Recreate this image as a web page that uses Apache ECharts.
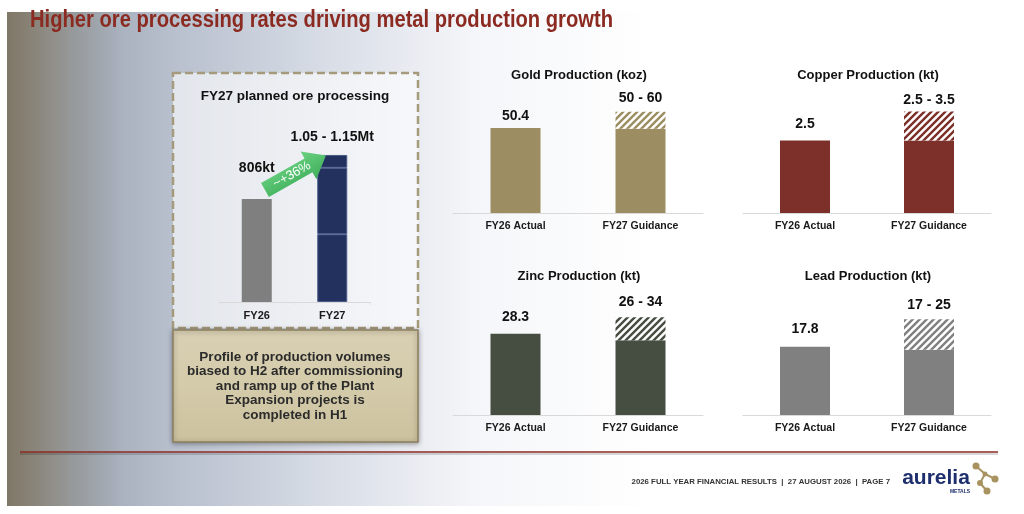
<!DOCTYPE html>
<html lang="en">
<head>
    <meta charset="UTF-8">
    <title>Higher ore processing rates driving metal production growth</title>
    <style>
        html, body { margin: 0; padding: 0; background: #ffffff; }
        #chart-container { width: 1024px; height: 514px; }
    </style>
</head>
<body>
    <div id="chart-container"></div>
    <script src="https://cdn.jsdelivr.net/npm/echarts@6/dist/echarts.min.js"></script>
    <script>
      // ---- data ----
      const oreCategories = ['FY26', 'FY27'];
      const oreActual = 806;              // kt
      const oreGuidance = [1050, 1150];   // kt, planned range
      const oreFY27Split = [530, 520, 100]; // segments visible in the FY27 bar

      const metalCategories = ['FY26 Actual', 'FY27 Guidance'];
      const goldActual = 50.4;   const goldGuidance = [50, 60];
      const copperActual = 2.5;  const copperGuidance = [2.5, 3.5];
      const zincActual = 28.3;   const zincGuidance = [26, 34];
      const leadActual = 17.8;   const leadGuidance = [17, 25];

      const FONT = '"Liberation Sans", Arial, sans-serif';
      const HEADLINE = 'Higher ore processing rates driving metal production growth';

      var dom = document.getElementById('chart-container');
      var myChart = echarts.init(dom, null, { renderer: 'canvas' });

      // diagonal hatch used for the guidance range
      function makeHatch(color) {
        const s = 7;
        const c = document.createElement('canvas');
        c.width = s; c.height = s;
        const ctx = c.getContext('2d');
        ctx.fillStyle = '#ffffff';
        ctx.fillRect(0, 0, s, s);
        ctx.strokeStyle = color;
        ctx.lineWidth = 2.4;
        ctx.beginPath();
        ctx.moveTo(-1, s + 1); ctx.lineTo(s + 1, -1);
        ctx.moveTo(-1, 1); ctx.lineTo(1, -1);
        ctx.moveTo(s - 1, s + 1); ctx.lineTo(s + 1, s - 1);
        ctx.stroke();
        return { image: c, repeat: 'repeat' };
      }

      // the slide uses a narrow bold face; squeeze the headline to its width
      const headFont = 'bold 23px ' + FONT;
      const mctx = document.createElement('canvas').getContext('2d');
      mctx.font = headFont;
      const headScale = 583 / mctx.measureText(HEADLINE).width;

      // small metal charts: grid box + axis max + colour
      const metalCharts = [
        { title: 'Gold Production (koz)', actual: goldActual, guidance: goldGuidance, color: '#9c8d62',
          left: 453, width: 250, top: 95, height: 118, max: 70, gaps: [5, 7] },
        { title: 'Copper Production (kt)', actual: copperActual, guidance: copperGuidance, color: '#7c3029',
          left: 743, width: 248, top: 97, height: 116, max: 4, gaps: [9, 4] },
        { title: 'Zinc Production (kt)', actual: zincActual, guidance: zincGuidance, color: '#464d41',
          left: 453, width: 250, top: 300, height: 115, max: 40, gaps: [9, 8] },
        { title: 'Lead Production (kt)', actual: leadActual, guidance: leadGuidance, color: '#808080',
          left: 743, width: 248, top: 300, height: 115, max: 30, gaps: [11, 7] }
      ];

      const grids = [{ left: 219, width: 151, top: 123, height: 179 }];
      const xAxes = [{
        type: 'category', gridIndex: 0, data: oreCategories,
        axisLine: { lineStyle: { color: '#d9d9d9' } },
        axisTick: { show: true, length: 3, lineStyle: { color: '#e2e2e2' } },
        axisLabel: { color: '#1a1a1a', fontWeight: 'bold', fontSize: 11, fontFamily: FONT, margin: 8 }
      }];
      const yAxes = [{ type: 'value', gridIndex: 0, min: 0, max: 1400, show: false, splitLine: { show: false } }];

      const boldLabel = { show: true, position: 'top', color: '#111', fontWeight: 'bold', fontSize: 14, fontFamily: FONT };

      const series = [
        {
          type: 'bar', stack: 'ore', xAxisIndex: 0, yAxisIndex: 0, barWidth: 30,
          data: [oreActual, '-'],
          itemStyle: { color: '#7f7f7f' },
          label: Object.assign({}, boldLabel, { distance: 24, formatter: p => p.value + 'kt' })
        }
      ];
      oreFY27Split.forEach(function (v, i) {
        series.push({
          type: 'bar', stack: 'ore', xAxisIndex: 0, yAxisIndex: 0, barWidth: 30,
          data: ['-', v],
          itemStyle: { color: '#22315e', borderColor: '#4a5a88', borderWidth: 1 },
          label: i === oreFY27Split.length - 1
            ? Object.assign({}, boldLabel, { distance: 11,
                formatter: () => (oreGuidance[0] / 1000).toFixed(2) + ' - ' + (oreGuidance[1] / 1000).toFixed(2) + 'Mt' })
            : { show: false }
        });
      });

      metalCharts.forEach(function (m, k) {
        const gi = k + 1;
        grids.push({ left: m.left, width: m.width, top: m.top, height: m.height });
        xAxes.push({
          type: 'category', gridIndex: gi, data: metalCategories,
          axisLine: { lineStyle: { color: '#d9d9d9', width: 1.2 } },
          axisTick: { show: false },
          axisLabel: { color: '#1a1a1a', fontWeight: 'bold', fontSize: 10.5, fontFamily: FONT, margin: 8 }
        });
        yAxes.push({ type: 'value', gridIndex: gi, min: 0, max: m.max, show: false, splitLine: { show: false } });
        series.push({
          type: 'bar', stack: 'm' + k, xAxisIndex: gi, yAxisIndex: gi, barWidth: 50,
          data: [m.actual, m.guidance[0]],
          itemStyle: { color: m.color },
          label: Object.assign({}, boldLabel, { distance: m.gaps[0],
            formatter: p => (p.dataIndex === 0 ? String(p.value) : '') })
        });
        series.push({
          type: 'bar', stack: 'm' + k, xAxisIndex: gi, yAxisIndex: gi, barWidth: 50,
          data: ['-', m.guidance[1] - m.guidance[0]],
          itemStyle: { color: makeHatch(m.color) },
          label: Object.assign({}, boldLabel, { distance: m.gaps[1],
            formatter: () => m.guidance[0] + ' - ' + m.guidance[1] })
        });
      });

      // slide decoration
      const titleCentres = [[579, 75], [868, 75], [579, 276], [868, 276]];
      const graphics = [
        // photo backdrop approximated by gradients
        { type: 'rect', z: -20, shape: { x: 7, y: 12, width: 650, height: 494 },
          style: { fill: new echarts.graphic.LinearGradient(0, 0, 1, 0, [
            { offset: 0, color: '#8f8d86' }, { offset: 0.1, color: '#9ca5b2' },
            { offset: 0.25, color: '#b7bfcd' }, { offset: 0.5, color: '#d9dee7' },
            { offset: 0.72, color: '#f5f6f9' }, { offset: 1, color: '#ffffff' }]) } },
        { type: 'rect', z: -19, shape: { x: 7, y: 12, width: 115, height: 494 },
          style: { fill: new echarts.graphic.LinearGradient(0, 0, 1, 0, [
            { offset: 0, color: 'rgba(115,100,75,0.55)' }, { offset: 0.55, color: 'rgba(135,120,90,0.28)' },
            { offset: 1, color: 'rgba(135,120,90,0)' }]) } },
        // headline
        { type: 'text', z: 10, x: 30, y: 21, scaleX: headScale,
          style: { text: HEADLINE, font: headFont, fill: '#8b2a20', textVerticalAlign: 'middle' } },
        // dashed panel for the ore chart
        { type: 'rect', z: -5, shape: { x: 173, y: 73, width: 245, height: 255 },
          style: { fill: 'rgba(255,255,255,0.6)', stroke: '#a59a7c', lineWidth: 2.5, lineDash: [8, 4] } },
        { type: 'text', z: 10, x: 295, y: 96,
          style: { text: 'FY27 planned ore processing', font: 'bold 13.5px ' + FONT, fill: '#111',
            textAlign: 'center', textVerticalAlign: 'middle' } },
        // tan note box
        { type: 'rect', z: -4, shape: { x: 173, y: 330, width: 245, height: 112 },
          style: { fill: new echarts.graphic.LinearGradient(0, 0, 0, 1, [
            { offset: 0, color: '#d9d0b4' }, { offset: 0.5, color: '#d4cbaa' }, { offset: 1, color: '#cbc19f' }]),
            stroke: '#8c7f5c', lineWidth: 1.5, shadowBlur: 5, shadowColor: 'rgba(0,0,0,0.35)', shadowOffsetY: 1 } },
        { type: 'text', z: 10, x: 295, y: 386,
          style: { text: 'Profile of production volumes\nbiased to H2 after commissioning\nand ramp up of the Plant\nExpansion projects is\ncompleted in H1',
            font: 'bold 13.5px ' + FONT, fill: '#2b2b2b', lineHeight: 14.5,
            textAlign: 'center', textVerticalAlign: 'middle' } },
        // growth arrow
        { type: 'group', x: 265, y: 190, rotation: 0.515, z: 20, children: [
          { type: 'polygon', z: 20, shape: { points: [[0, -8], [50, -8], [50, -16], [70, 0], [50, 16], [50, 8], [0, 8]] },
            style: { fill: new echarts.graphic.LinearGradient(0, 0, 0, 1, [
              { offset: 0, color: '#6ad282' }, { offset: 1, color: '#3fae5a' }]) } },
          { type: 'text', z: 21, x: 31, y: 0,
            style: { text: '~+36%', font: '13px ' + FONT, fill: '#ffffff', textAlign: 'center', textVerticalAlign: 'middle' } }
        ] },
        // footer rule
        { type: 'line', z: 5, shape: { x1: 20, y1: 454, x2: 998, y2: 454 }, style: { stroke: 'rgba(0,0,0,0.15)', lineWidth: 2 } },
        { type: 'line', z: 6, shape: { x1: 20, y1: 452, x2: 998, y2: 452 }, style: { stroke: '#8b2a20', lineWidth: 1.5 } },
        { type: 'text', z: 10, x: 890, y: 482,
          style: { text: '2026 FULL YEAR FINANCIAL RESULTS  |  27 AUGUST 2026  |  PAGE 7', font: 'bold 7.8px ' + FONT,
            fill: '#333', textAlign: 'right', textVerticalAlign: 'middle' } },
        // logo
        { type: 'text', z: 10, x: 936, y: 478,
          style: { text: 'aurelia', font: 'bold 21px ' + FONT, fill: '#1e2f6e', textAlign: 'center', textVerticalAlign: 'middle' } },
        { type: 'text', z: 10, x: 960, y: 492,
          style: { text: 'METALS', font: 'bold 5px ' + FONT, fill: '#1e2f6e', textAlign: 'center', textVerticalAlign: 'middle' } },
        { type: 'polyline', z: 10, shape: { points: [[976, 466], [985, 474], [995, 479]] }, style: { stroke: '#a8925f', lineWidth: 2 } },
        { type: 'polyline', z: 10, shape: { points: [[985, 474], [980, 483], [987, 491]] }, style: { stroke: '#a8925f', lineWidth: 2 } },
        { type: 'circle', z: 10, shape: { cx: 976, cy: 466, r: 3.5 }, style: { fill: '#a8925f' } },
        { type: 'circle', z: 10, shape: { cx: 985, cy: 474, r: 2.5 }, style: { fill: '#a8925f' } },
        { type: 'circle', z: 10, shape: { cx: 995, cy: 479, r: 3.5 }, style: { fill: '#a8925f' } },
        { type: 'circle', z: 10, shape: { cx: 980, cy: 483, r: 3 }, style: { fill: '#a8925f' } },
        { type: 'circle', z: 10, shape: { cx: 987, cy: 491, r: 3.5 }, style: { fill: '#a8925f' } }
      ];
      metalCharts.forEach(function (m, k) {
        graphics.push({ type: 'text', z: 10, x: titleCentres[k][0], y: titleCentres[k][1],
          style: { text: m.title, font: 'bold 13px ' + FONT, fill: '#111', textAlign: 'center', textVerticalAlign: 'middle' } });
      });

      var option = {
        animation: false,
        backgroundColor: '#ffffff',
        grid: grids,
        xAxis: xAxes,
        yAxis: yAxes,
        series: series,
        graphic: { elements: graphics }
      };

      myChart.setOption(option);
      window.addEventListener('resize', myChart.resize);
    </script>
</body>
</html>
